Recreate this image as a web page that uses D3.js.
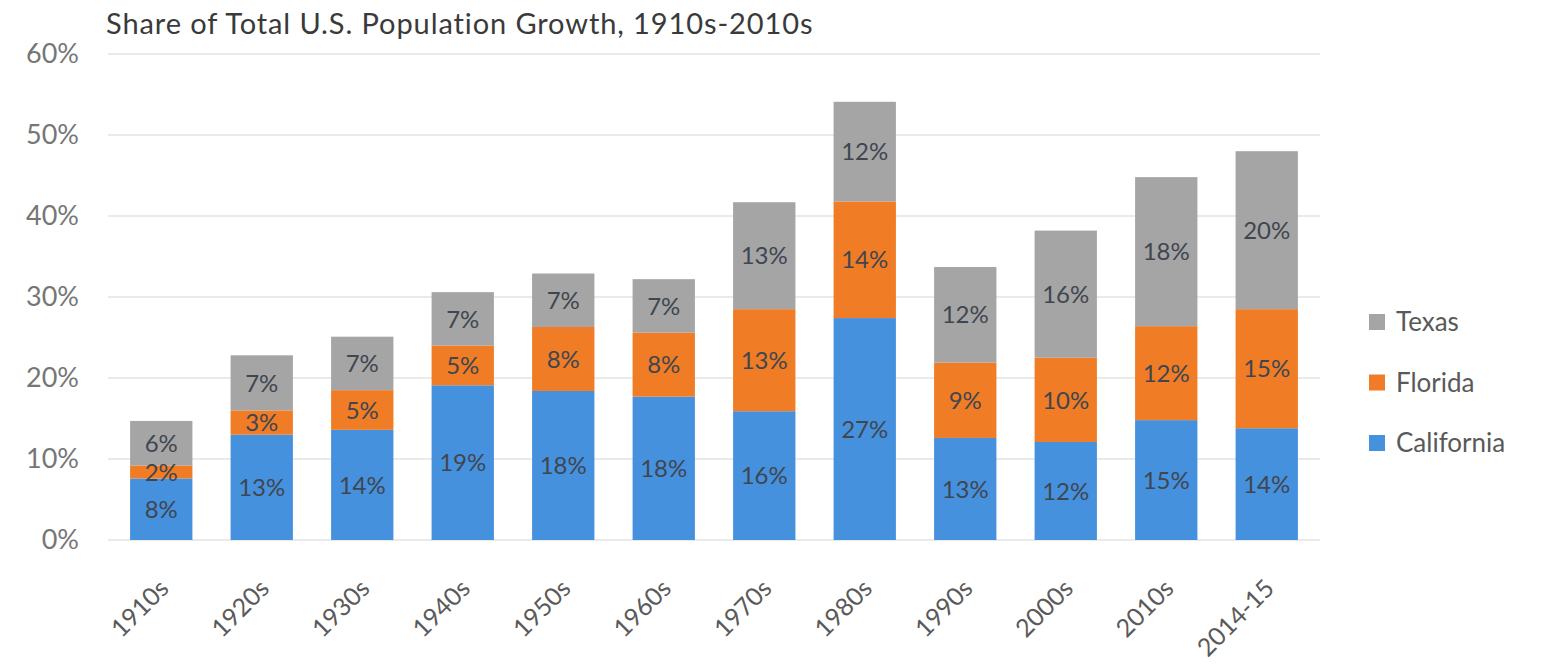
<!DOCTYPE html>
<html>
<head>
<meta charset="utf-8">
<script src="https://cdn.jsdelivr.net/npm/d3@7"></script>
<style>
  html, body { margin: 0; padding: 0; background: #fff; }
  svg { display: block; }
  text { font-family: Lato, "Open Sans", sans-serif; }
</style>
</head>
<body>
<svg id="chart" width="1556" height="667"></svg>
<script>
// Decades (categories)
const periods = ["1910s", "1920s", "1930s", "1940s", "1950s", "1960s",
                 "1970s", "1980s", "1990s", "2000s", "2010s", "2014-15"];

// Share of total U.S. population growth, in percent
const california = [7.6, 13.0, 13.6, 19.1, 18.4, 17.7, 15.9, 27.4, 12.6, 12.1, 14.8, 13.8];
const florida    = [1.6,  3.0,  4.9,  4.9,  7.9,  7.9, 12.6, 14.4,  9.3, 10.4, 11.6, 14.7];
const texas      = [5.5,  6.8,  6.6,  6.6,  6.6,  6.6, 13.2, 12.3, 11.8, 15.7, 18.4, 19.5];

const yTicks = [0, 10, 20, 30, 40, 50, 60];
const seriesNames = ["California", "Florida", "Texas"];
const seriesColors = { California: "#4691de", Florida: "#f07c26", Texas: "#a5a5a5" };

const rows = periods.map((p, i) => ({
  period: p, California: california[i], Florida: florida[i], Texas: texas[i]
}));

const svg = d3.select("#chart");
const plot = { left: 111, right: 1317, top: 54, bottom: 540 };

const x = d3.scaleBand().domain(periods).range([plot.left, plot.right])
  .paddingInner(0.38).paddingOuter(0.19);
const y = d3.scaleLinear().domain([0, 60]).range([plot.bottom, plot.top]);

// Title
svg.append("text")
  .attr("x", 106).attr("y", 34)
  .attr("font-size", 29).attr("fill", "#3a3a3a")
  .attr("letter-spacing", 0.9)
  .text("Share of Total U.S. Population Growth, 1910s-2010s");

// Gridlines
svg.append("g")
  .selectAll("line").data(yTicks).join("line")
  .attr("x1", 108).attr("x2", 1320)
  .attr("y1", d => y(d)).attr("y2", d => y(d))
  .attr("stroke", "#e3e3e3").attr("stroke-width", 1.5);

// Y axis
const yAxis = d3.axisLeft(y).tickValues(yTicks).tickSize(0).tickPadding(0)
  .tickFormat(d => d + "%");
const yg = svg.append("g").attr("transform", "translate(79,0)").call(yAxis);
yg.select(".domain").remove();
yg.selectAll("text").attr("font-size", 27).attr("fill", "#767676")
  .attr("font-family", "Lato, sans-serif");

// Stacked bars
const stack = d3.stack().keys(seriesNames);
const layers = stack(rows);

const layerG = svg.append("g").selectAll("g").data(layers).join("g")
  .attr("fill", d => seriesColors[d.key]);

layerG.selectAll("rect").data(d => d).join("rect")
  .attr("x", d => x(d.data.period))
  .attr("width", x.bandwidth())
  .attr("y", d => y(d[1]))
  .attr("height", d => y(d[0]) - y(d[1]));

// Data labels
const labelG = svg.append("g");
layers.forEach(layer => {
  labelG.selectAll(null).data(layer).join("text")
    .attr("x", d => x(d.data.period) + x.bandwidth() / 2)
    .attr("y", d => (y(d[0]) + y(d[1])) / 2)
    .attr("dy", "0.36em")
    .attr("text-anchor", "middle")
    .attr("font-size", 24)
    .attr("fill", "#3f4650")
    .text(d => Math.round(d.data[layer.key]) + "%");
});

// X axis labels, rotated
const xAxis = d3.axisBottom(x).tickSize(0).tickPadding(0);
const xg = svg.append("g").attr("transform", `translate(0,${plot.bottom})`).call(xAxis);
xg.select(".domain").remove();
xg.selectAll("text")
  .attr("font-size", 25).attr("fill", "#5a5a5a")
  .attr("font-family", "Lato, sans-serif")
  .attr("text-anchor", "end")
  .attr("dy", null)
  .attr("transform", "translate(9,50) rotate(-45)");

// Legend
const legendItems = ["Texas", "Florida", "California"];
const legend = svg.append("g").attr("transform", "translate(1369,322)");
const li = legend.selectAll("g").data(legendItems).join("g")
  .attr("transform", (d, i) => `translate(0,${i * 60.5})`);
li.append("rect").attr("x", 0).attr("y", -8).attr("width", 16).attr("height", 16)
  .attr("fill", d => seriesColors[d]);
li.append("text").attr("x", 27).attr("y", 0).attr("dy", "0.36em")
  .attr("font-size", 26).attr("fill", "#595959").text(d => d);
</script>
</body>
</html>
